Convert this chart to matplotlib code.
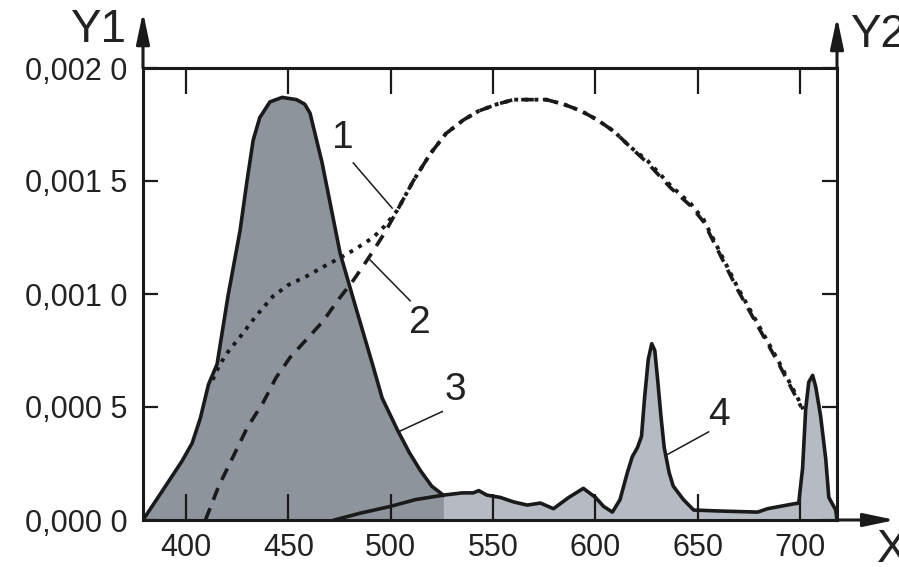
import matplotlib.pyplot as plt
from matplotlib.ticker import FixedLocator

plt.rcParams['font.family'] = ['Liberation Sans', 'DejaVu Sans']

# curve 3: blue emission band (dark fill)
x3 = [379, 390, 398, 403, 407, 411, 415.2, 420.5, 426.4, 429.8, 432.8, 436, 441,
      447, 454, 458, 460.6, 466.5, 475.3, 483.6, 491.4, 495.8, 503.2, 509, 514.4,
      520, 525.7]
y3 = [0, 0.00015, 0.00026, 0.00034, 0.00045, 0.0006, 0.00069, 0.00099, 0.00128,
      0.0015, 0.00168, 0.00178, 0.00185, 0.00187, 0.00186, 0.00184, 0.0018,
      0.00158, 0.00118, 0.00092, 0.00068, 0.00054, 0.0004, 0.0003, 0.00022,
      0.00015, 0.00011]

# curve 1: dotted
x1 = [413, 416.6, 421, 426.4, 434, 442.5, 450, 459.2, 467, 475.3, 483, 491.4, 497,
      503.2, 511, 519.3, 527, 535.5, 543, 552, 560, 568.2, 576, 584.4, 593, 601,
      609, 617.1, 625.4, 636.7, 646.5, 652.8, 661.1, 669.4, 679.2, 689, 698.8, 701.5]
y1 = [0.00062, 0.00069, 0.00075, 0.00081, 0.0009, 0.00099, 0.00104, 0.00108,
      0.00112, 0.00116, 0.0012, 0.00125, 0.0013, 0.00137, 0.0015, 0.00162,
      0.00171, 0.00177, 0.00181, 0.00184, 0.00186, 0.00186, 0.00186, 0.00184,
      0.00181, 0.00177, 0.00172, 0.00165, 0.00159, 0.00148, 0.0014, 0.00133,
      0.00118, 0.00103, 0.00087, 0.00071, 0.00054, 0.00049]

# curve 2: dashed
x2 = [409.5, 416, 423, 430, 437.7, 444, 450.9, 459, 467, 474, 481.7, 487, 491.4,
      497, 503.2, 511, 519.3, 527, 535.5, 543, 552, 560, 568.2, 576, 584.4, 593,
      601, 609, 617.1, 625.4, 636.7, 646.5, 652.8, 661.1, 669.4, 679.2, 689, 698.8,
      700.5]
y2 = [0, 0.00015, 0.00028, 0.00041, 0.00052, 0.00063, 0.00072, 0.0008, 0.00088,
      0.00097, 0.00106, 0.00113, 0.00119, 0.00127, 0.00137, 0.0015, 0.00162,
      0.00171, 0.00177, 0.00181, 0.00184, 0.00186, 0.00186, 0.00186, 0.00184,
      0.00181, 0.00177, 0.00172, 0.00165, 0.00158, 0.00147, 0.00139, 0.00132,
      0.00117, 0.00102, 0.00086, 0.0007, 0.00053, 0.0005]

# curve 4: red/green phosphor spectrum (light fill)
x4 = [472.5, 485, 499.8, 512, 525.7, 535, 540.3, 543, 547, 553.5, 560, 566.7, 573.1,
      579.5, 587, 594.1, 600, 604, 608.3, 612, 615.6, 618, 620.5, 622.5, 624,
      625.8, 627.5, 629, 630.5, 632, 633.6, 636, 638, 643, 648, 660, 679.2, 684.1,
      690, 696, 699.3, 701.2, 702.7, 704.2, 706.1, 707.6, 710, 712.5, 714, 717.4, 718]
y4 = [0, 0.00003, 0.00006, 0.00009, 0.00011, 0.00012, 0.00012, 0.00013, 0.00011,
      0.0001, 0.00008, 0.000066, 0.000075, 0.00005, 0.0001, 0.00014, 0.0001,
      0.00006, 0.000035, 0.00009, 0.00021, 0.00028, 0.00032, 0.00037, 0.00054,
      0.00071, 0.00078, 0.00075, 0.00061, 0.00046, 0.00032, 0.00021, 0.00015,
      0.00009, 0.000044, 0.00004, 0.000035, 0.00005, 0.00006, 0.00007, 0.000075,
      0.00023, 0.00049, 0.00061, 0.00064, 0.00059, 0.00046, 0.00027, 0.0001,
      0.000044, 0]

xticks = [400, 450, 500, 550, 600, 650, 700]
yticks = [0, 0.0005, 0.001, 0.0015, 0.002]
ylabels = ['0,000 0', '0,000 5', '0,001 0', '0,001 5', '0,002 0']

fig = plt.figure(figsize=(8.99, 5.67), dpi=100)
ax = fig.add_axes([143/899, 1-520/567, 694/899, 452/567])

ax.fill_between(x4, y4, 0, color='#b6bac2', lw=0)
ax.fill_between(x3, y3, 0, color='#8e949c', lw=0)
ax.plot(x4, y4, color='#1a1a1a', lw=2.6, solid_joinstyle='round')
ax.plot(x3, y3, color='#1a1a1a', lw=2.6, solid_joinstyle='round')
ax.plot(x2, y2, color='#1a1a1a', lw=2.6, linestyle=(0, (3.5, 2.5)))
ax.plot(x1, y1, color='#1a1a1a', lw=2.8, linestyle=(0, (1, 1.6)))

ax.set_xlim(379, 718)
ax.set_ylim(0, 0.002)

for s in ax.spines.values():
    s.set_linewidth(2.2)
    s.set_color('#1a1a1a')

ax.xaxis.set_major_locator(FixedLocator(xticks))
ax.set_xticklabels([str(v) for v in xticks])
ax.yaxis.set_major_locator(FixedLocator(yticks))
ax.set_yticklabels(ylabels)
ax.tick_params(axis='x', direction='in', length=19, width=1.6, top=True,
               labelsize=22, pad=9, color='#1a1a1a', labelcolor='#222222')
ax.tick_params(axis='y', direction='in', length=11, width=1.6, right=True,
               labelsize=22, pad=11, color='#1a1a1a', labelcolor='#222222')

# axis arrows
arr = dict(arrowstyle='-|>,head_length=0.95,head_width=0.2', mutation_scale=20,
           lw=2.2, color='#1a1a1a', shrinkA=0, shrinkB=0)
ax.annotate('', xy=(0, 1.124), xytext=(0, 1), xycoords='axes fraction',
            arrowprops=arr, annotation_clip=False)
ax.annotate('', xy=(1, 1.113), xytext=(1, 1), xycoords='axes fraction',
            arrowprops=arr, annotation_clip=False)
ax.annotate('', xy=(1.084, 0), xytext=(1, 0), xycoords='axes fraction',
            arrowprops=arr, annotation_clip=False)

ax.text(-0.065, 1.084, 'Y1', transform=ax.transAxes, fontsize=33,
        ha='center', va='center', color='#222222')
ax.text(1.0187, 1.073, 'Y2', transform=ax.transAxes, fontsize=33,
        ha='left', va='center', color='#222222')
ax.text(1.058, -0.066, 'X', transform=ax.transAxes, fontsize=33,
        ha='left', va='center', color='#222222')

# curve labels with leader lines
labels = ['1', '2', '3', '4']
label_pos = [(476.8, 0.00169), (514.4, 0.00087), (531.5, 0.000575), (660.1, 0.000465)]
leaders = [((481.7, 0.00158), (500.7, 0.00138)),
           ((490, 0.00115), (509.5, 0.00097)),
           ((525.2, 0.00048), (503.7, 0.00039)),
           ((655.3, 0.00039), (635.2, 0.00029))]
for lab, (lx, ly), (p0, p1) in zip(labels, label_pos, leaders):
    ax.text(lx, ly, lab, fontsize=28, ha='center', va='center', color='#222222')
    ax.plot([p0[0], p1[0]], [p0[1], p1[1]], color='#1a1a1a', lw=1.1)

fig.savefig('out.png', dpi=100)
